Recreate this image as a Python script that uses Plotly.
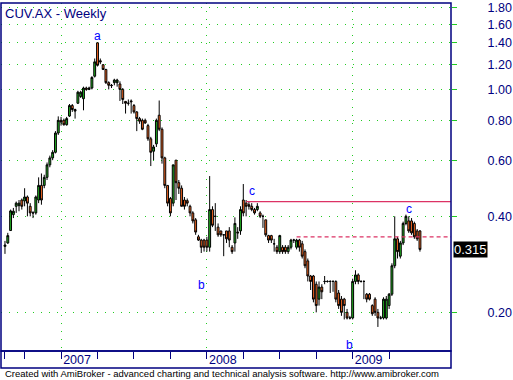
import math
import pandas as pd
import plotly.graph_objects as go

# ---------------- data ----------------
title_text = "CUV.AX - Weekly"
first_week = "2006-08-18"   # weekly bars (Friday)

opens = [
    .322, .33, .361, .405, .43, .432, .45, .447, .46, .43,
    .41, .41, .45, .50, .50, .53, .58, .61, .635, .73,
    .80, .80, .775, .825, .89, .865, .905, .95, .935, 1.01,
    1.0, 1.01, 1.10, 1.40, 1.23, 1.195, 1.155, 1.05, 1.03, 1.05,
    1.05, 1.04, 1.0, .917, .905, .92, .89, .85, .81, .80,
    .80, .77, .70, .64, .675, .83, .75, .61, .50, .455,
    .44, .60, .51, .49, .45, .448, .43, .41, .39, .345,
    .337, .337, .337, .32, .42, .40, .37, .36, .35, .36,
    .36, .32, .33, .357, .36, .45, .44, .435, .43, .42,
    .42, .41, .40, .39, .348, .348, .328, .32, .31, .32,
    .32, .31, .32, .337, .32, .337, .328, .31, .29, .26,
    .26, .245, .22, .24, .25, .25, .25, .25, .25, .23,
    .22, .22, .20, .192, .192, .25, .262, .25, .25, .228,
    .228, .21, .22, .20, .192, .192, .192, .21, .228, .28,
    .34, .30, .33, .38, .387, .387, .38, .36, .36,
]
highs = [
    .335, .355, .42, .425, .445, .45, .455, .49, .465, .44,
    .415, .465, .53, .545, .54, .59, .62, .645, .74, .823,
    .82, .81, .82, .90, .90, .87, .99, .99, 1.02, 1.02,
    1.02, 1.10, 1.25, 1.40, 1.25, 1.20, 1.16, 1.06, 1.04, 1.08,
    1.08, 1.06, 1.01, .92, .93, .93, .90, .855, .82, .81,
    .81, .78, .71, .67, .81, .923, .76, .615, .50, .46,
    .58, .60, .52, .50, .46, .455, .435, .415, .395, .35,
    .34, .34, .345, .535, .43, .44, .38, .36, .352, .36,
    .37, .325, .397, .37, .43, .505, .45, .445, .44, .425,
    .44, .415, .405, .39, .35, .35, .34, .325, .35, .325,
    .325, .325, .34, .34, .34, .34, .335, .315, .295, .262,
    .262, .25, .25, .245, .26, .252, .252, .252, .252, .235,
    .225, .222, .205, .195, .255, .271, .265, .252, .252, .23,
    .23, .212, .223, .205, .195, .223, .225, .23, .285, .40,
    .345, .335, .385, .405, .40, .395, .385, .365, .362,
]
lows = [
    .305, .328, .36, .395, .41, .415, .42, .43, .40, .40,
    .395, .405, .44, .435, .49, .52, .57, .60, .63, .72,
    .77, .77, .77, .82, .85, .81, .90, .94, .86, .99,
    .995, 1.0, 1.09, 1.18, 1.20, 1.15, 1.04, 1.0, 1.01, 1.03,
    1.02, .92, .90, .84, .89, .84, .84, .74, .78, .745,
    .78, .69, .575, .60, .66, .74, .585, .49, .43, .40,
    .43, .45, .47, .43, .42, .43, .40, .38, .35, .335,
    .307, .31, .31, .31, .37, .36, .345, .345, .30, .33,
    .32, .305, .31, .34, .35, .40, .40, .42, .415, .405,
    .415, .395, .368, .345, .33, .33, .31, .305, .305, .305,
    .305, .305, .315, .33, .315, .31, .295, .275, .25, .235,
    .215, .20, .21, .22, .245, .248, .23, .232, .215, .205,
    .195, .19, .19, .19, .19, .245, .245, .248, .22, .215,
    .218, .195, .195, .18, .19, .19, .19, .205, .225, .275,
    .295, .295, .325, .375, .355, .35, .34, .335, .31,
]
closes = [
    .325, .348, .416, .415, .44, .44, .43, .46, .44, .41,
    .41, .46, .50, .45, .53, .58, .61, .635, .73, .80,
    .79, .775, .81, .89, .865, .855, .98, .98, 1.01, 1.0,
    1.01, 1.09, 1.22, 1.19, 1.22, 1.155, 1.05, 1.03, 1.028, 1.07,
    1.07, 1.0, .93, .905, .905, .915, .85, .81, .795, .75,
    .785, .70, .635, .66, .80, .75, .61, .50, .44, .41,
    .58, .51, .49, .43, .43, .44, .41, .387, .357, .337,
    .32, .32, .32, .42, .375, .40, .35, .35, .35, .34,
    .337, .31, .38, .355, .42, .41, .43, .43, .42, .41,
    .43, .40, .40, .35, .337, .337, .328, .31, .348, .31,
    .31, .32, .337, .337, .337, .32, .30, .28, .26, .25,
    .22, .21, .24, .232, .25, .25, .25, .25, .22, .21,
    .20, .21, .192, .192, .25, .262, .25, .25, .25, .22,
    .22, .198, .20, .192, .192, .22, .22, .228, .28, .34,
    .31, .33, .38, .40, .36, .355, .345, .34, .315,
]

y_ticks = [0.2, 0.4, 0.6, 0.8, 1.0, 1.2, 1.4, 1.6, 1.8]
y_tick_text = [f"{v:.2f}" for v in y_ticks]

wave_labels = ["a", "b", "c", "b", "c"]
wave_bars = [33, 70, 88, 123, 144]
wave_prices = [1.467, 0.244, 0.480, 0.1585, 0.422]

trend_levels = [0.445, 0.345]
trend_start_bars = [86, 104]
trend_dashes = ["solid", "4px,3px"]

footer_text = ("Created with AmiBroker - advanced charting and technical analysis "
               "software. http://www.amibroker.com")

# ---------------- styling ----------------
NAVY = "#000080"
GRID = "#22cc22"
UP = "#22b322"
DOWN = "#ff6a22"
TREND = "#dc3264"
FONT = "Liberation Sans, Arial, sans-serif"

n = len(closes)
dates = pd.date_range(first_week, periods=n, freq="W-FRI")
week = pd.Timedelta(days=7)
x_start = dates[0] - week * 1.42
x_end = dates[0] + week * 159.07
y_range = [0.1513, 1.866]

# first bar of each year / each quarter
year_ticks, year_text, quarter_ticks = [], [], []
for i, d in enumerate(dates):
    if i == 0 or d.quarter != dates[i - 1].quarter:
        quarter_ticks.append(d)
    if i > 0 and d.year != dates[i - 1].year:
        year_ticks.append(d)
        year_text.append(str(d.year))

fig = go.Figure()
fig.add_trace(go.Candlestick(
    x=dates, open=opens, high=highs, low=lows, close=closes,
    increasing=dict(fillcolor=UP, line=dict(color="black", width=1)),
    decreasing=dict(fillcolor=DOWN, line=dict(color="black", width=1)),
    whiskerwidth=0, showlegend=False, hoverinfo="skip",
))

for lvl, sb, dash in zip(trend_levels, trend_start_bars, trend_dashes):
    fig.add_trace(go.Scatter(
        x=[dates[sb], x_end], y=[lvl, lvl], mode="lines",
        line=dict(color=TREND, width=1.3, dash=dash),
        showlegend=False, hoverinfo="skip",
    ))

annotations = []
for lab, b, p in zip(wave_labels, wave_bars, wave_prices):
    annotations.append(dict(
        x=dates[b], y=math.log10(p), xref="x", yref="y", text=lab,
        showarrow=False, font=dict(family=FONT, size=12, color="#0000ff"),
        xanchor="center", yanchor="middle",
    ))

annotations.append(dict(
    x=0, y=1, xref="paper", yref="paper", text=title_text, showarrow=False,
    xanchor="left", yanchor="top", xshift=2, yshift=-1,
    font=dict(family=FONT, size=13, color=NAVY),
))
annotations.append(dict(
    x=1, y=math.log10(closes[-1]), xref="paper", yref="y",
    text=f"{closes[-1]:.3f}", showarrow=False, xanchor="left", yanchor="middle",
    xshift=2, bgcolor="black", borderpad=0,
    font=dict(family=FONT, size=13, color="white"),
))
annotations.append(dict(
    x=0, y=-23 / 350, xref="paper", yref="paper", text=footer_text,
    showarrow=False, xanchor="left", yanchor="middle", xshift=2,
    font=dict(family=FONT, size=9.5, color="black"),
))

shapes = [
    dict(type="rect", xref="paper", yref="paper", x0=0, x1=1, y0=0, y1=1,
         line=dict(color=NAVY, width=1.5)),
    dict(type="rect", xref="paper", yref="paper", x0=0, x1=1, y0=-17 / 350, y1=0,
         line=dict(color=NAVY, width=1.5)),
]

fig.update_layout(
    width=513, height=380,
    margin=dict(l=1, r=61, t=1, b=29),
    paper_bgcolor="white", plot_bgcolor="white",
    showlegend=False,
    boxgap=0.05,
    font=dict(family=FONT),
    annotations=annotations,
    shapes=shapes,
    xaxis=dict(
        type="date", range=[x_start, x_end],
        tickmode="array", tickvals=year_ticks, ticktext=year_text,
        ticks="outside", ticklen=7, tickwidth=1, tickcolor=NAVY,
        showgrid=True, gridcolor=GRID, griddash="1px,7px", gridwidth=1,
        showline=False, zeroline=False,
        tickfont=dict(family=FONT, size=12.5, color=NAVY),
        ticklabelshift=16, ticklabelstandoff=-10,
        minor=dict(tickmode="array", tickvals=quarter_ticks, ticks="outside",
                   ticklen=7, tickwidth=1, tickcolor=NAVY, showgrid=False),
        rangeslider=dict(visible=False),
        fixedrange=True,
    ),
    yaxis=dict(
        type="log", side="right",
        range=[math.log10(y_range[0]), math.log10(y_range[1])],
        tickmode="array", tickvals=y_ticks, ticktext=y_tick_text,
        ticks="outside", ticklen=5, tickwidth=1, tickcolor=GRID,
        showgrid=True, gridcolor=GRID, griddash="1px,7px", gridwidth=1,
        showline=False, zeroline=False,
        tickfont=dict(family=FONT, size=12.5, color=NAVY),
        ticklabelstandoff=28, ticklabeloverflow="allow",
        fixedrange=True,
    ),
)

fig.write_html("out.html", config={"displayModeBar": False})
